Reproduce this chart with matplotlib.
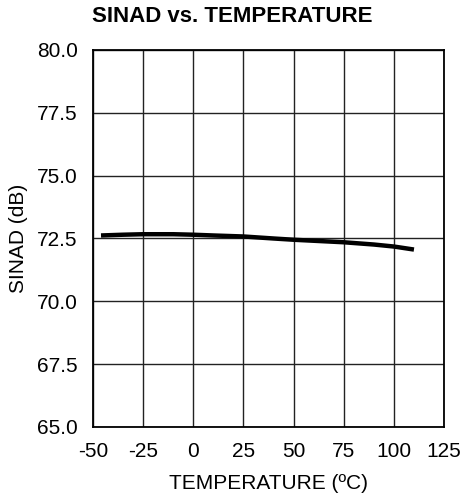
import matplotlib
matplotlib.use("Agg")
import matplotlib.pyplot as plt
import numpy as np

plt.rcParams['font.family'] = ['Liberation Sans', 'DejaVu Sans']

temps = [-46, -35, -25, -10, 0, 10, 25, 40, 50, 65, 75, 90, 100, 110]
sinad = [72.62, 72.65, 72.67, 72.67, 72.65, 72.62, 72.58, 72.5, 72.45, 72.39, 72.35, 72.26, 72.18, 72.06]

xticks = [-50, -25, 0, 25, 50, 75, 100, 125]
yticks = [65.0, 67.5, 70.0, 72.5, 75.0, 77.5, 80.0]

fig = plt.figure(figsize=(4.64, 4.98), dpi=100)
ax = fig.add_axes([0.2004, 0.1426, 0.7566, 0.757])

ax.plot(temps, sinad, color='black', linewidth=3.2, solid_capstyle='butt')

ax.set_xlim(-50, 125)
ax.set_ylim(65, 80)
ax.set_xticks(xticks)
ax.set_xticklabels([str(v) for v in xticks])
ax.set_yticks(yticks)
ax.set_yticklabels([f"{v:.1f}" for v in yticks])
ax.tick_params(length=0, labelsize=15)
ax.tick_params(axis='x', pad=11)
ax.tick_params(axis='y', pad=11)
ax.grid(True, color='#222222', linewidth=1.0)
for s in ax.spines.values():
    s.set_linewidth(1.3)

ax.set_xlabel('TEMPERATURE (ºC)', fontsize=15, labelpad=9)
ax.set_ylabel('SINAD (dB)', fontsize=15, labelpad=6)
fig.suptitle('SINAD vs. TEMPERATURE', fontsize=16, fontweight='bold', x=0.5, y=0.966, va='center')

fig.savefig('out.png', dpi=100)
